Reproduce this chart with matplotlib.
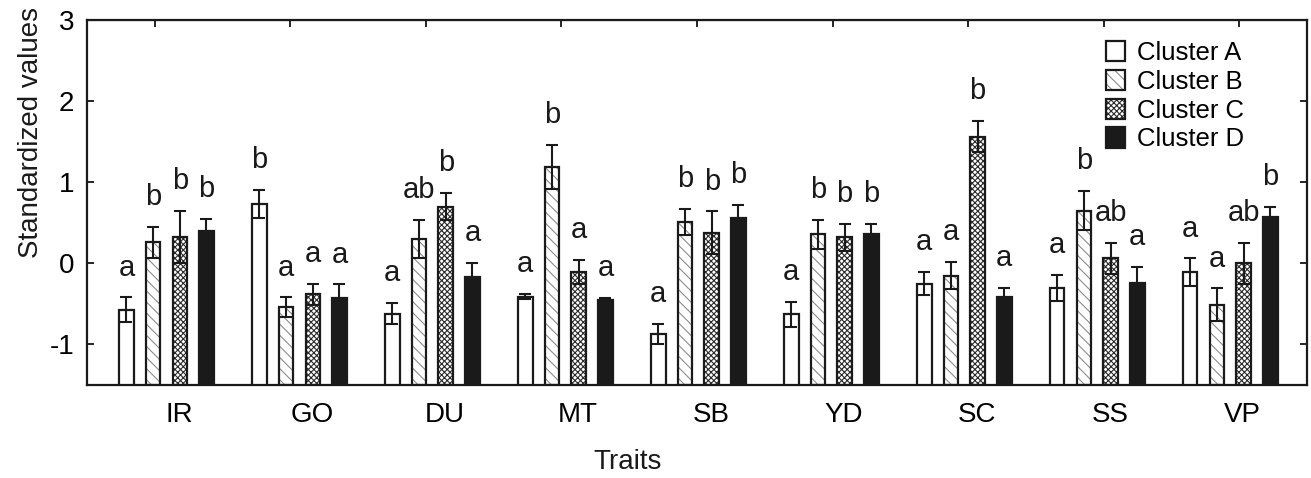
import numpy as np
import matplotlib
matplotlib.use("Agg")
from matplotlib import pyplot as plt
from matplotlib.patches import Patch

plt.rcParams["font.family"] = ["Liberation Sans", "DejaVu Sans"]
plt.rcParams["hatch.linewidth"] = 0.8
plt.rcParams["axes.unicode_minus"] = False

# Data
traits = ["IR", "GO", "DU", "MT", "SB", "YD", "SC", "SS", "VP"]
clusters = ["Cluster A", "Cluster B", "Cluster C", "Cluster D"]

mean_a = [-0.57, 0.73, -0.62, -0.41, -0.87, -0.63, -0.25, -0.30, -0.11]
mean_b = [0.26, -0.54, 0.30, 1.19, 0.51, 0.36, -0.15, 0.65, -0.51]
mean_c = [0.33, -0.38, 0.70, -0.11, 0.38, 0.32, 1.56, 0.06, 0.00]
mean_d = [0.40, -0.43, -0.17, -0.45, 0.56, 0.36, -0.42, -0.24, 0.57]

err_a = [0.15, 0.17, 0.13, 0.03, 0.12, 0.15, 0.14, 0.16, 0.17]
err_b = [0.19, 0.12, 0.24, 0.27, 0.16, 0.18, 0.17, 0.24, 0.20]
err_c = [0.32, 0.13, 0.17, 0.15, 0.26, 0.17, 0.19, 0.19, 0.25]
err_d = [0.15, 0.17, 0.18, 0.02, 0.16, 0.13, 0.12, 0.19, 0.12]

letters_a = ["a", "b", "a", "a", "a", "a", "a", "a", "a"]
letters_b = ["b", "a", "ab", "b", "b", "b", "a", "b", "a"]
letters_c = ["b", "a", "b", "a", "b", "b", "b", "ab", "ab"]
letters_d = ["b", "a", "a", "a", "b", "b", "a", "a", "b"]

means = [mean_a, mean_b, mean_c, mean_d]
errs = [err_a, err_b, err_c, err_d]
letters = [letters_a, letters_b, letters_c, letters_d]

# Bar styles: (facecolor, hatch, hatch colour)
styles = [
    ("white", None, None),
    ("white", "\\\\\\", "#8c8c8c"),
    ("white", "xxxxxx", "#2a2a2a"),
    ("#1a1a1a", None, None),
]
edge = "#1a1a1a"

fig = plt.figure(figsize=(13.11, 4.78), dpi=100)
ax = fig.add_axes([87 / 1311, 1 - 385 / 478, 1220 / 1311, 365 / 478])

base = -1.5
group_x = 0.586 + 0.981 * np.arange(len(traits))
offsets = (np.arange(4) - 1.5) * 0.197
width = 0.107

for k in range(4):
    x = group_x + offsets[k]
    vals = np.array(means[k])
    fc, hatch, hcol = styles[k]
    if hatch:
        ax.bar(x, vals - base, width, bottom=base, color=fc, hatch=hatch,
               edgecolor=hcol, linewidth=0, zorder=2)
        ax.bar(x, vals - base, width, bottom=base, fill=False,
               edgecolor=edge, linewidth=1.6, zorder=3)
    else:
        ax.bar(x, vals - base, width, bottom=base, color=fc,
               edgecolor=edge, linewidth=1.6, zorder=3)
    ax.errorbar(x, vals, yerr=errs[k], fmt="none", ecolor=edge,
                elinewidth=1.5, capsize=4.5, capthick=1.5, zorder=4)
    for xi, v, e, lab in zip(x, vals, errs[k], letters[k]):
        ax.text(xi, v + e + 0.27, lab, ha="center", va="baseline",
                fontsize=21, color="#1a1a1a")

ax.set_xlim(0, 9)
ax.set_ylim(-1.5, 3)
ax.set_yticks([-1, 0, 1, 2, 3])
ax.set_xticks(group_x + 0.092)
ax.set_xticklabels(traits)
ax.tick_params(axis="x", length=0, pad=12, labelsize=20)
ax.tick_params(axis="y", direction="in", length=5, width=1.2, pad=9,
               labelsize=20, right=True)
sec = ax.secondary_xaxis("top")
sec.set_xticks(np.arange(9) + 0.5)
sec.set_xticklabels([])
sec.tick_params(direction="in", length=5, width=1.2)
for s in ax.spines.values():
    s.set_linewidth(1.6)
    s.set_color(edge)

fig.text(628 / 1311, 1 - 462 / 478, "Traits", fontsize=20,
         ha="center", va="center", color="#1a1a1a")
fig.text(31 / 1311, 1 - 133 / 478, "Standardized values", fontsize=20,
         rotation=90, ha="center", va="center", color="#1a1a1a")

handles = []
for fc, hatch, hcol in styles:
    if hatch:
        handles.append((Patch(facecolor=fc, hatch=hatch, edgecolor=hcol, linewidth=0),
                        Patch(fill=False, edgecolor=edge, linewidth=1.6)))
    else:
        handles.append(Patch(facecolor=fc, edgecolor=edge, linewidth=1.6))
ax.legend(handles, clusters, loc="upper left",
          bbox_to_anchor=((1106 - 87) / 1220, 1 - (41 - 20) / 365),
          frameon=False, fontsize=18.5, borderpad=0, borderaxespad=0,
          handlelength=0.75, handleheight=0.85, handletextpad=0.45,
          labelspacing=0.18)

fig.savefig("out.png", dpi=100)
